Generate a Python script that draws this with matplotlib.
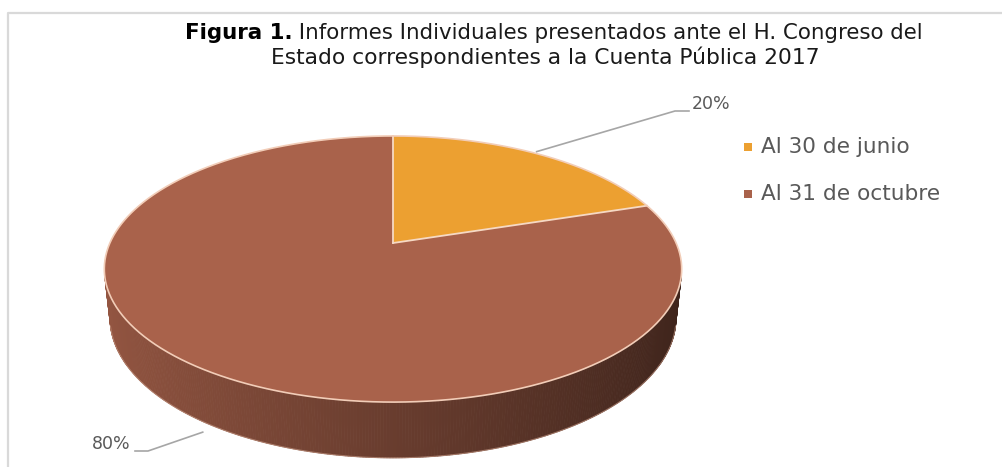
import numpy as np
import matplotlib
matplotlib.use("Agg")
import matplotlib.pyplot as plt

# ---------------- data ----------------
categories = ["Al 30 de junio", "Al 31 de octubre"]
values = [20, 80]
pct_labels = ["20%", "80%"]
colors = ["#ECA031", "#A9624B"]
title_bold = "Figura 1."
title_rest = " Informes Individuales presentados ante el H. Congreso del"
title_line2 = "Estado correspondientes a la Cuenta Pública 2017"

# ---------------- figure ----------------
W, H = 1002, 467
fig = plt.figure(figsize=(W / 100, H / 100), dpi=100)
ax = fig.add_axes([0, 0, 1, 1])
ax.set_xlim(0, W)
ax.set_ylim(H, 0)
ax.axis("off")

# frame (only top and left visible)
ax.plot([8, 8, W], [H, 13, 13], color="#D9D9D9", lw=1.6, solid_capstyle="butt")

# ---------------- 3D pie projection ----------------
elev = np.arcsin(0.452)
ce, se = np.cos(elev), np.sin(elev)
D = 4.56
F = 1291.0
cx, cy = 393.0, 243.0
depth = 0.194


def proj(X, Z, Y=0.0):
    den = D + Z * ce - Y * se
    sx = X / den
    sy = (Y * ce + Z * se) / den
    return cx + F * sx, cy - F * sy


def shade(hexcol, f):
    rgb = np.array(matplotlib.colors.to_rgb(hexcol))
    return tuple(np.clip(rgb * f, 0, 1))


total = float(sum(values))
bounds = np.concatenate([[0.0], np.cumsum(values) / total * 2 * np.pi])
vis_lim = -1.0 / (D * ce)

# sides
for i, col in enumerate(colors):
    a0, a1 = bounds[i], bounds[i + 1]
    n = max(int((a1 - a0) / (2 * np.pi) * 720), 4)
    t = np.linspace(a0, a1, n + 1)
    for k in range(n):
        tm = 0.5 * (t[k] + t[k + 1])
        if np.cos(tm) >= vis_lim:
            continue
        xs, ys = [], []
        for tt, yy in [(t[k], 0), (t[k + 1], 0), (t[k + 1], -depth), (t[k], -depth)]:
            px, py = proj(np.sin(tt), np.cos(tt), yy)
            xs.append(px)
            ys.append(py)
        f = 0.62 - 0.26 * np.sin(tm)
        c = shade(col, f)
        ax.fill(xs, ys, facecolor=c, edgecolor=c, lw=0.6, zorder=2)

# bottom rim soft highlight
tb = np.linspace(np.pi / 2 + 0.25, 3 * np.pi / 2 - 0.25, 200)
bx, by = proj(np.sin(tb), np.cos(tb), -depth)
ax.plot(bx, by, color="#C89A86", lw=0.8, alpha=0.6, zorder=2.5)

# top faces
for i, col in enumerate(colors):
    a0, a1 = bounds[i], bounds[i + 1]
    t = np.linspace(a0, a1, 400)
    px, py = proj(np.sin(t), np.cos(t))
    xs = np.concatenate([[cx], px, [cx]])
    ys = np.concatenate([[cy], py, [cy]])
    ax.fill(xs, ys, facecolor=col, edgecolor="none", zorder=3)
# wedge edges (light highlight)
for b in bounds[:-1]:
    ex, ey = proj(np.sin(b), np.cos(b))
    ax.plot([cx, ex], [cy, ey], color="#F6D9C4", lw=1.3, zorder=4)
tt = np.linspace(0, 2 * np.pi, 800)
rx, ry = proj(np.sin(tt), np.cos(tt))
ax.plot(rx, ry, color="#F2CDB8", lw=1.2, zorder=4)

# ---------------- data labels ----------------
lab_col = "#595959"
lead_col = "#A6A6A6"
# 20%
m0 = 0.5 * (bounds[0] + bounds[1])
ax0, ay0 = proj(np.sin(m0), np.cos(m0))
ax.plot([ax0, 675, 689], [ay0 - 2, 111, 111], color=lead_col, lw=1.2, zorder=5)
ax.text(692, 104, pct_labels[0], fontsize=12.5, color=lab_col, ha="left", va="center",
        family="DejaVu Sans")
# 80%
m1 = 0.5 * (bounds[1] + bounds[2])
bx1, by1 = proj(np.sin(m1), np.cos(m1), -depth)
ax.plot([bx1 + 3, 148, 135], [by1 + 12, 451, 451], color=lead_col, lw=1.2, zorder=5)
ax.text(131, 444, pct_labels[1], fontsize=12.5, color=lab_col, ha="right", va="center",
        family="DejaVu Sans")

# ---------------- legend ----------------
leg_y = [147, 194]
for c, lab, yy in zip(colors, categories, leg_y):
    ax.scatter([748], [yy], marker="s", s=30, color=c, edgecolors="none", zorder=6)
    ax.text(761, yy, lab, fontsize=15.6, color=lab_col, ha="left", va="center",
            family="DejaVu Sans")

# ---------------- title ----------------
fig.canvas.draw()
r = fig.canvas.get_renderer()
tfam = ["DejaVu Sans"]
fs = 16
tb_ = ax.text(0, 0, title_bold, fontsize=fs, fontweight="bold", family=tfam)
tr_ = ax.text(0, 0, title_rest, fontsize=fs, family=tfam)
wb = tb_.get_window_extent(r).width
wr = tr_.get_window_extent(r).width
target = 742.0
scale = target / (wb + wr)
fs2 = fs * scale
tb_.set_fontsize(fs2)
tr_.set_fontsize(fs2)
wb = tb_.get_window_extent(r).width
wr = tr_.get_window_extent(r).width
x0 = 554 - (wb + wr) / 2
tb_.set_position((x0, 33))
tb_.set_va("center")
tr_.set_position((x0 + wb, 33))
tr_.set_va("center")
tb_.set_color("black")
tr_.set_color("#1a1a1a")
ax.text(545, 57, title_line2, fontsize=fs2 * 1.02, family=tfam, ha="center", va="center",
        color="#1a1a1a")

fig.savefig("out.png", dpi=100)
